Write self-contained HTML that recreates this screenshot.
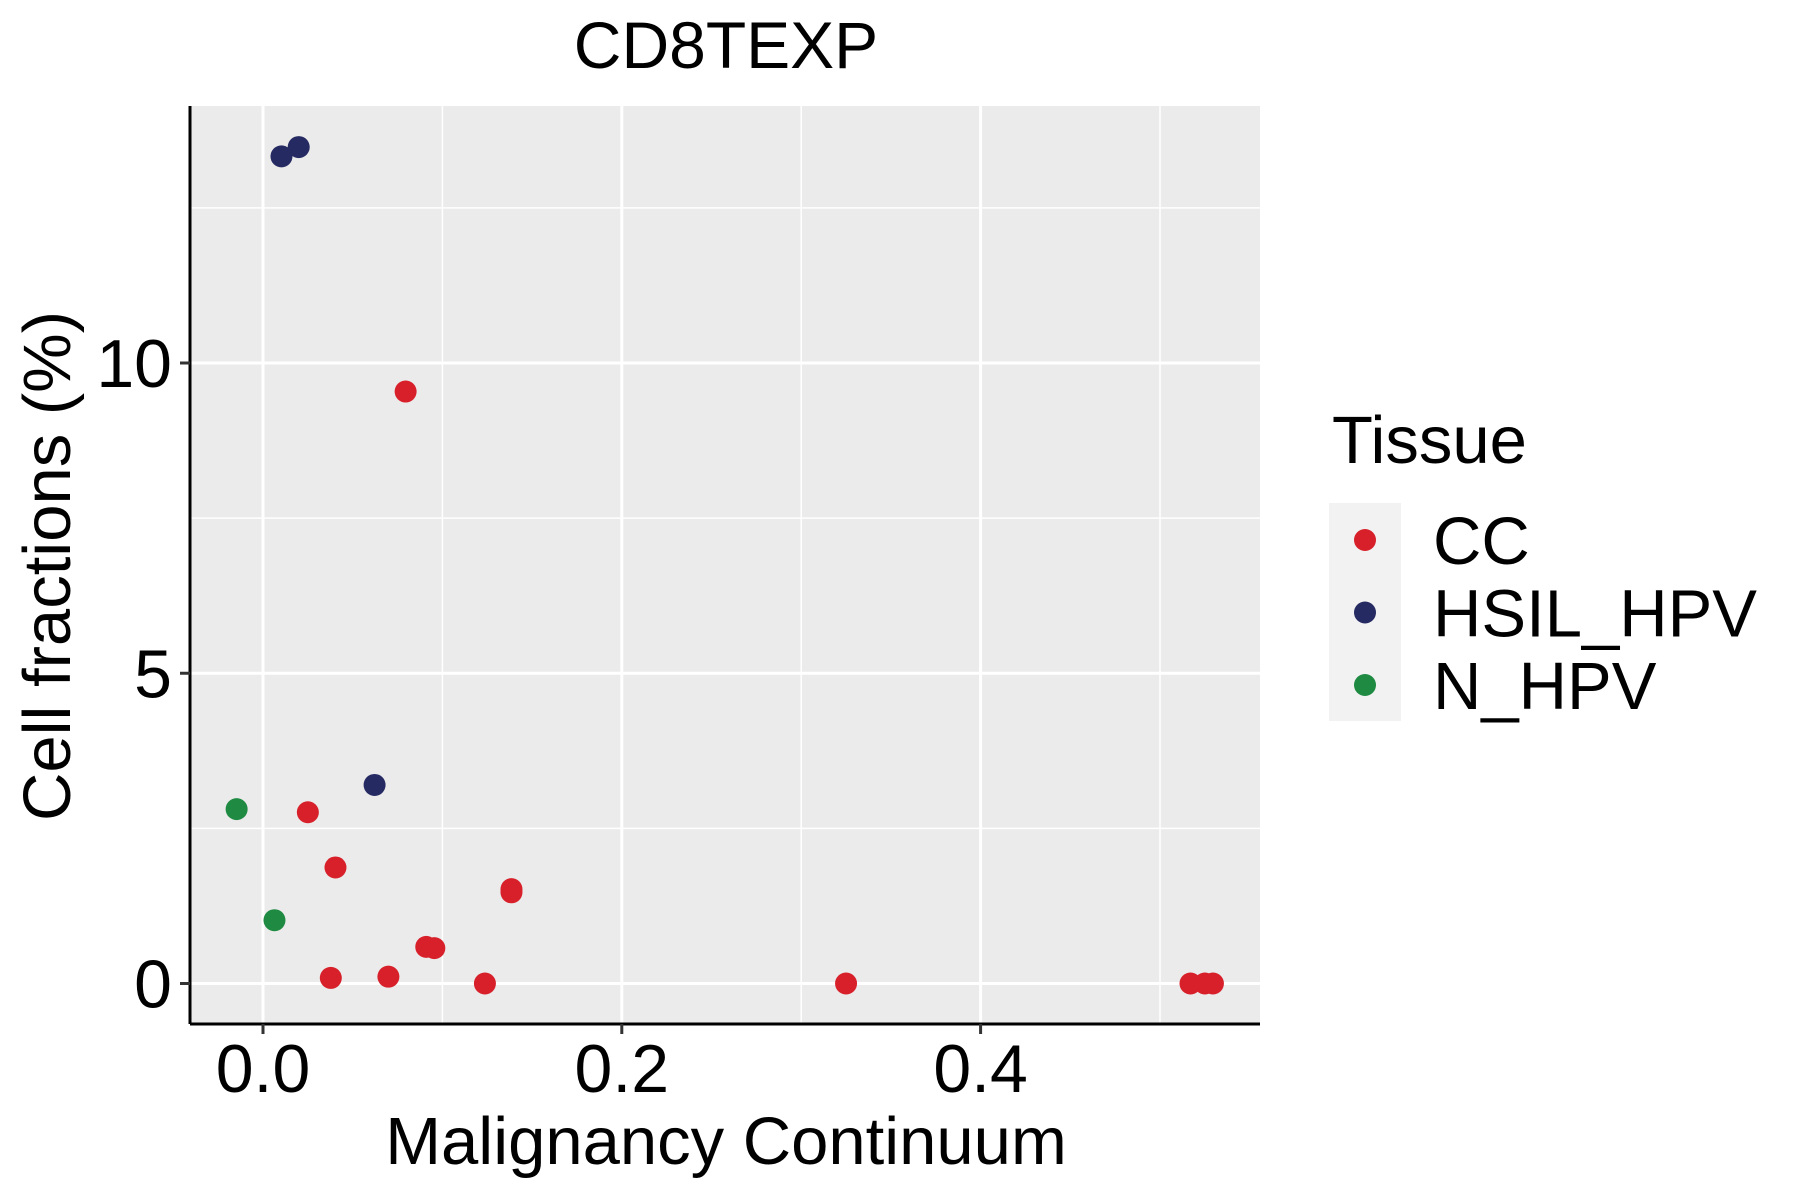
<!DOCTYPE html>
<html><head><meta charset="utf-8"><style>
html,body{margin:0;padding:0;background:#fff}
svg{display:block;font-family:"Liberation Sans",Arial,sans-serif}
</style></head><body>
<svg id="chart" width="1800" height="1200" viewBox="0 0 1800 1200" xmlns="http://www.w3.org/2000/svg">
<text x="726" y="68" font-size="66" text-anchor="middle">CD8TEXP</text>
<rect x="190" y="106" width="1070" height="918" fill="#EBEBEB"/>
<g id="grid"></g>
<g id="points"></g>
<line x1="190" y1="106" x2="190" y2="1024" stroke="#000" stroke-width="3"/>
<line x1="190" y1="1024" x2="1260" y2="1024" stroke="#000" stroke-width="3"/>
<g id="ticks"></g>
<text x="726" y="1164" font-size="67" text-anchor="middle">Malignancy Continuum</text>
<text transform="translate(70,566) rotate(-90)" font-size="67" text-anchor="middle">Cell fractions (%)</text>
<g>
<text x="1332" y="463" font-size="67">Tissue</text>
<rect x="1329" y="503" width="72" height="218" fill="#F2F2F2"/>
<g id="legend-items"></g>
</g>
</svg>
<script>
const categories = ["CC","HSIL_HPV","N_HPV"];
const colors = ["#D7202A","#262A63","#1F8A42"];
const xTicks = [0.0,0.2,0.4];
const xTickLabels = ["0.0","0.2","0.4"];
const yTicks = [0,5,10];
const yTickLabels = ["0","5","10"];
const ccX = [0.0795,0.025,0.0404,0.1385,0.1385,0.091,0.0955,0.0378,0.0699,0.1237,0.325,0.517,0.525,0.5295];
const ccY = [9.54,2.76,1.87,1.52,1.47,0.59,0.57,0.09,0.11,0.0,0.0,0.0,0.0,0.0];
const hsilX = [0.0103,0.0199,0.0622];
const hsilY = [13.33,13.48,3.20];
const nX = [-0.0147,0.0064];
const nY = [2.81,1.02];

const NS="http://www.w3.org/2000/svg";
const X0=263, XS=1794;
const Y0=983.5, YS=62.05;
function sx(v){return X0+v*XS;}
function sy(v){return Y0-v*YS;}
function mk(tag,attrs,parent){const e=document.createElementNS(NS,tag);for(const k in attrs)e.setAttribute(k,attrs[k]);parent.appendChild(e);return e;}

const grid=document.getElementById('grid');
for(let i=0;i<xTicks.length;i++){
  const m=xTicks[i]+0.1; const px=sx(m);
  if(px<1260){const l=mk('line',{x1:px,y1:106,x2:px,y2:1024,stroke:'#fff','stroke-width':1.5},grid);
  
  }
}
for(let i=0;i<yTicks.length;i++){
  const m=yTicks[i]+2.5; const py=sy(m);
  if(py>106){const l=mk('line',{x1:190,y1:py,x2:1260,y2:py,stroke:'#fff','stroke-width':1.5},grid);
  
  }
}
const ticks=document.getElementById('ticks');
for(let i=0;i<xTicks.length;i++){
  const px=sx(xTicks[i]);
  const l=mk('line',{x1:px,y1:106,x2:px,y2:1024,stroke:'#fff','stroke-width':3},grid);
  
  
  const t=mk('line',{x1:px,y1:1024,x2:px,y2:1034,stroke:'#333','stroke-width':3},ticks);
  
  
  const tx=mk('text',{x:px,y:1092,'font-size':68,'text-anchor':'middle',fill:'#000'},ticks);
  tx.textContent=xTickLabels[i];
  
  
}
for(let i=0;i<yTicks.length;i++){
  const py=sy(yTicks[i]);
  const l=mk('line',{x1:190,y1:py,x2:1260,y2:py,stroke:'#fff','stroke-width':3},grid);
  
  
  const t=mk('line',{x1:180,y1:py,x2:190,y2:py,stroke:'#333','stroke-width':3},ticks);
  
  
  const tx=mk('text',{x:172,y:py+24,'font-size':68,'text-anchor':'end',fill:'#000'},ticks);
  tx.textContent=yTickLabels[i];
  
  
}
const pts=document.getElementById('points');
const series=[[ccX,ccY],[hsilX,hsilY],[nX,nY]];
for(let s=0;s<series.length;s++){
  const xs=series[s][0], ys=series[s][1];
  for(let i=0;i<xs.length;i++){
    const c=mk('circle',{cx:sx(xs[i]),cy:sy(ys[i]),r:11,fill:colors[s]},pts);
    
    
  }
}
const li=document.getElementById('legend-items');
for(let s=0;s<categories.length;s++){
  const cy=540+s*72.5;
  const c=mk('circle',{cx:1365,cy:cy,r:11,fill:colors[s]},li);
  
  
  const t=mk('text',{x:1433,y:cy+24,'font-size':67},li);
  t.textContent=categories[s];
  
  
}
</script>
</body></html>
